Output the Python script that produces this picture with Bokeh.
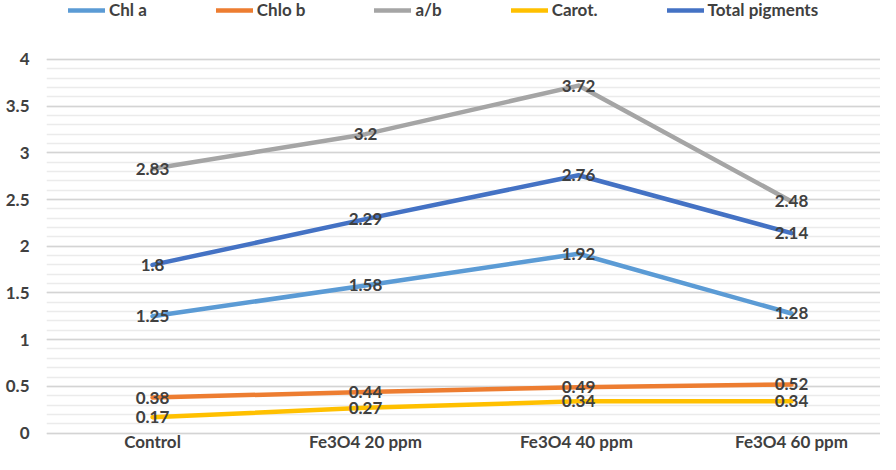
from bokeh.plotting import figure
from bokeh.models import ColumnDataSource, FixedTicker, Range1d, Legend, LegendItem
from bokeh.core.properties import value
from bokeh.embed import file_html
from bokeh.resources import INLINE

# ---- data ----
categories = ["Control", "Fe3O4 20 ppm", "Fe3O4 40  ppm", "Fe3O4 60 ppm"]
series_names = ["Chl a", "Chlo b", "a/b", "Carot.", "Total pigments"]
chl_a = [1.25, 1.58, 1.92, 1.28]
chlo_b = [0.38, 0.44, 0.49, 0.52]
a_b = [2.83, 3.2, 3.72, 2.48]
carot = [0.17, 0.27, 0.34, 0.34]
total = [1.8, 2.29, 2.76, 2.14]
y_ticks = [0, 0.5, 1, 1.5, 2, 2.5, 3, 3.5, 4]
y_minor_ticks = [round(0.1 * k, 1) for k in range(41)]

series_values = [chl_a, chlo_b, a_b, carot, total]
colors = ["#5B9BD5", "#ED7D31", "#A5A5A5", "#FFC000", "#4472C4"]

FONT = "Lato"
TXT = "#404040"

p = figure(width=880, height=454, output_backend="svg", toolbar_location=None,
           x_range=Range1d(-0.4977, 3.4178), y_range=Range1d(-0.037, 4.631),
           min_border_left=46, min_border_right=0, min_border_top=0, min_border_bottom=18)
p.outline_line_color = None
p.background_fill_color = "white"

xs = list(range(len(categories)))

items = []
for name, vals, col in zip(series_names, series_values, colors):
    src = ColumnDataSource(dict(x=xs, y=vals))
    r = p.line("x", "y", source=src, line_color=col, line_width=4.5,
               line_cap="round", line_join="round")
    items.append(LegendItem(label=name, renderers=[r]))

# data labels on top
for vals in series_values:
    src = ColumnDataSource(dict(x=xs, y=vals, t=[f"{v:g}" for v in vals]))
    p.text("x", "y", text="t", source=src, text_align="center", text_baseline="middle",
           text_font=value(FONT), text_font_style="bold", text_font_size="17px",
           text_color=TXT)

# axes
p.xaxis.ticker = FixedTicker(ticks=xs)
p.xaxis.major_label_overrides = {i: c for i, c in enumerate(categories)}
p.yaxis.ticker = FixedTicker(ticks=y_ticks, minor_ticks=y_minor_ticks)
p.yaxis.major_label_overrides = {t: f"{t:g}" for t in y_ticks}
for ax in (p.xaxis[0], p.yaxis[0]):
    ax.axis_line_color = None
    ax.major_tick_line_color = None
    ax.minor_tick_line_color = None
    ax.major_tick_out = 0
    ax.major_tick_in = 0
    ax.minor_tick_out = 0
    ax.minor_tick_in = 0
    ax.major_label_text_font = FONT
    ax.major_label_text_font_style = "bold"
    ax.major_label_text_color = TXT
    ax.major_label_text_font_size = "17px"
p.xaxis.major_label_standoff = -6
p.yaxis.major_label_standoff = 17

# grids
p.xgrid.grid_line_color = None
p.ygrid.grid_line_color = "#D4D4D4"
p.ygrid.grid_line_width = 1.5
p.ygrid.minor_grid_line_color = "#EBEBEB"
p.ygrid.minor_grid_line_width = 1.3
p.ygrid.bounds = (0, 4)

legend = Legend(items=items, orientation="horizontal", location=(22, 416),
                label_text_font=FONT, label_text_font_style="bold",
                label_text_font_size="17px", label_text_color=TXT,
                glyph_width=37, glyph_height=20, label_height=20, label_standoff=4,
                spacing=69, padding=0, margin=0,
                background_fill_alpha=0, border_line_alpha=0)
p.add_layout(legend, "center")

open("out.html", "w").write(file_html(p, INLINE))
